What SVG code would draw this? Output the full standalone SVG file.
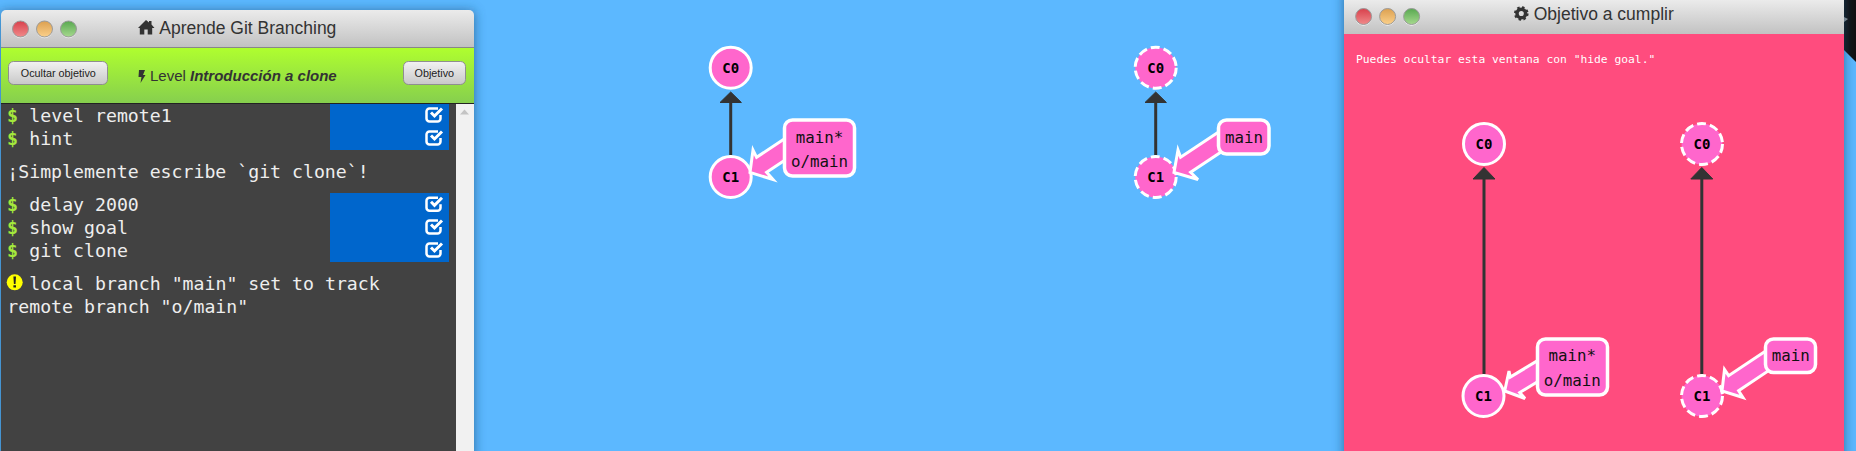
<svg xmlns="http://www.w3.org/2000/svg" xmlns:xlink="http://www.w3.org/1999/xlink" width="1856" height="451" viewBox="0 0 1856 451">
<defs>
<linearGradient id="bar" x1="0" y1="0" x2="0" y2="1"><stop offset="0" stop-color="#ebebeb"/><stop offset="1" stop-color="#c2c2c2"/></linearGradient>
<linearGradient id="green" x1="0" y1="0" x2="0" y2="1"><stop offset="0" stop-color="#b0ff2e"/><stop offset="1" stop-color="#86cf4e"/></linearGradient>
<linearGradient id="btn" x1="0" y1="0" x2="0" y2="1"><stop offset="0" stop-color="#f2f2f2"/><stop offset="1" stop-color="#c8c8c8"/></linearGradient>
<linearGradient id="red" x1="0" y1="0" x2="0" y2="1"><stop offset="0" stop-color="#d8404c"/><stop offset="1" stop-color="#f08a8a"/></linearGradient>
<linearGradient id="amber" x1="0" y1="0" x2="0" y2="1"><stop offset="0" stop-color="#dca050"/><stop offset="1" stop-color="#fbd08a"/></linearGradient>
<linearGradient id="lime" x1="0" y1="0" x2="0" y2="1"><stop offset="0" stop-color="#58a850"/><stop offset="1" stop-color="#a6d98e"/></linearGradient>
<filter id="sh" x="-10%" y="-10%" width="120%" height="120%"><feGaussianBlur stdDeviation="6"/></filter>
<g id="check">
<path d="M438 0h-8.500a3 3 0 0 0-3 3v7a3 3 0 0 0 3 3h8a3 3 0 0 0 3-3v-3.500" fill="none" stroke="#fff" stroke-width="2.500"/>
<path d="M431 4l3.500 3.500 7.500-7.500" fill="none" stroke="#fff" stroke-width="3"/>
</g>
<g id="lights">
<circle cx="0" cy="1.200" r="8" fill="#f4f4f4"/><circle cx="0" cy="0" r="8" fill="url(#red)" stroke="#9a9a9a"/>
<circle cx="24" cy="1.200" r="8" fill="#f4f4f4"/><circle cx="24" cy="0" r="8" fill="url(#amber)" stroke="#9a9a9a"/>
<circle cx="48" cy="1.200" r="8" fill="#f4f4f4"/><circle cx="48" cy="0" r="8" fill="url(#lime)" stroke="#9a9a9a"/>
</g>
</defs>
<style>
text{font-family:"Liberation Sans",Arial,sans-serif}
.term,.dollar,.ct,.bt,.note{font-family:"DejaVu Sans Mono","Liberation Mono",monospace}
.term{font-size:18.200px;fill:#eeeeee}
.dollar{font-size:18.200px;fill:#a4e83c;font-weight:bold}
.title{font-size:17.500px;fill:#333}
.btnr{fill:url(#btn);stroke:#8f8f8f;stroke-width:1}
.btnt{font-size:10.800px;fill:#222;text-anchor:middle}
.run{fill:#0066cc}
.commit{fill:#ff66cc;stroke:#fff;stroke-width:3}
.dash{stroke-dasharray:9 4}
.ct{font-size:14px;font-weight:bold;fill:#000;text-anchor:middle}
.edge{stroke:#333;stroke-width:3;fill:none}
.head{fill:#333;stroke:#333;stroke-width:1}
.br{fill:#ff66cc;stroke:#fff;stroke-width:3.500}
.bt{font-size:15.800px;fill:#111;text-anchor:middle}
.arrow{fill:#ff66cc;stroke:#fff;stroke-width:3}
</style>
<rect width="1856" height="451" fill="#5cb8ff"/>
<polygon points="1844,0 1856,0 1856,62 1844,50" fill="#111"/>
<polygon points="1844,17 1848,19 1844,22" fill="#999"/>

<g id="panel-left">
<rect x="1" y="11" width="473" height="450" fill="#1c4e78" opacity=".7" filter="url(#sh)"/>
<path d="M1 47V15a5 5 0 0 1 5-5H469a5 5 0 0 1 5 5V47Z" fill="url(#bar)"/>
<rect x="1" y="47" width="473" height="56" fill="url(#green)"/>
<rect x="1" y="47" width="473" height="1" fill="#888"/>
<rect x="1" y="103" width="473" height="348" fill="#424242"/>
<rect x="1" y="103" width="473" height="1" fill="#222"/>
<rect x="456" y="104" width="18" height="347" fill="#f1f1f1"/>
<path d="M460 114.500l4.500-5 4.500 5z" fill="#c4c4c4"/>
<use xlink:href="#lights" href="#lights" x="20.500" y="29"/>
<path d="M138 28l8-8 3 2.600V21h2.500v3.600l3 3.400h-2.300v6.500h-4.500v-5h-3.400v5h-4.500v-6.500z" fill="#333"/>
<text class="title" x="159.300" y="33.500">Aprende Git Branching</text>
<rect x="8.500" y="61.500" width="99" height="23" rx="5" class="btnr"/>
<text class="btnt" x="58.300" y="76.700">Ocultar objetivo</text>
<rect x="403.500" y="61.500" width="62" height="23" rx="5" class="btnr"/>
<text class="btnt" x="434.300" y="76.700">Objetivo</text>
<path d="M139 70h6l-2 5h2.500l-5 8 1-6h-3z" fill="#333"/>
<text x="150" y="81" font-size="15" fill="#333">Level <tspan font-weight="bold" font-style="italic">Introducción a clone</tspan></text>
</g>

<g id="terminal">
<rect x="330" y="104" width="119" height="46" class="run"/>
<rect x="330" y="193" width="119" height="69" class="run"/>
<text class="dollar" x="7" y="122">$</text><text class="term" x="29.300" y="122">level remote1</text>
<text class="dollar" x="7" y="145">$</text><text class="term" x="29.300" y="145">hint</text>
<text class="term" x="7.300" y="178">¡Simplemente escribe `git clone`!</text>
<text class="dollar" x="7" y="211">$</text><text class="term" x="29.300" y="211">delay 2000</text>
<text class="dollar" x="7" y="234">$</text><text class="term" x="29.300" y="234">show goal</text>
<text class="dollar" x="7" y="257">$</text><text class="term" x="29.300" y="257">git clone</text>
<text class="term" x="29.300" y="290">local branch "main" set to track</text>
<text class="term" x="7.300" y="313">remote branch "o/main"</text>
<circle cx="14.700" cy="282.300" r="8" fill="#ffff00"/>
<path d="M13.400 276.500h2.600l-.5 7.500h-1.600zM13.400 285.200h2.600v2.400h-2.600z" fill="#222"/>
<g id="checks">
<use xlink:href="#check" href="#check" y="108.500"/>
<use xlink:href="#check" href="#check" y="131.500"/>
<use xlink:href="#check" href="#check" y="197.800"/>
<use xlink:href="#check" href="#check" y="220.500"/>
<use xlink:href="#check" href="#check" y="243.500"/>
</g>
</g>

<g id="panel-goal">
<rect x="1344" y="-10" width="500" height="475" fill="#1c4e78" opacity=".7" filter="url(#sh)"/>
<rect x="1344" y="0" width="500" height="34" fill="url(#bar)"/>
<rect x="1344" y="34" width="500" height="417" fill="#ff4c7e"/>
<use xlink:href="#lights" href="#lights" x="1363.600" y="16.500"/>
<circle cx="1521.300" cy="13.500" r="4.300" fill="none" stroke="#333" stroke-width="3.500"/>
<circle cx="1521.300" cy="13.500" r="6.300" fill="none" stroke="#333" stroke-width="2" stroke-dasharray="2.500 2.450"/>
<text class="title" x="1533.700" y="20">Objetivo a cumplir</text>
<text class="note" x="1356" y="63" font-size="11.300" fill="#fff">Puedes ocultar esta ventana con "hide goal."</text>
</g>

<g id="node-c0-left"><circle class="commit" cx="730.700" cy="67.700" r="20.500"/><text class="ct" x="730.700" y="72.800">C0</text></g>
<g id="node-c1-left"><circle class="commit" cx="730.700" cy="177" r="20.500"/><text class="ct" x="730.700" y="182">C1</text></g>
<g id="node-c0-right"><circle class="commit dash" cx="1155.700" cy="67.700" r="20.500"/><text class="ct" x="1155.700" y="72.800">C0</text></g>
<g id="node-c1-right"><circle class="commit dash" cx="1155.700" cy="177" r="20.500"/><text class="ct" x="1155.700" y="182">C1</text></g>
<g id="node-goal-c0-left"><circle class="commit" cx="1484" cy="144" r="20.500"/><text class="ct" x="1484" y="149">C0</text></g>
<g id="node-goal-c1-left"><circle class="commit" cx="1483.500" cy="396" r="20.500"/><text class="ct" x="1483.500" y="401">C1</text></g>
<g id="node-goal-c0-right"><circle class="commit dash" cx="1702" cy="144" r="20.500"/><text class="ct" x="1702" y="149">C0</text></g>
<g id="node-goal-c1-right"><circle class="commit dash" cx="1702" cy="396" r="20.500"/><text class="ct" x="1702" y="401">C1</text></g>

<g id="connectors">
<path class="edge" d="M730.700 155V101"/><path class="head" d="M720 102.500L730.700 92l10.700 10.500z"/>
<path class="edge" d="M1155.700 155V101"/><path class="head" d="M1145 102.500L1155.700 92l10.700 10.500z"/>
<path class="edge" d="M1484 374V178"/><path class="head" d="M1473 179L1484 167.500l11 11.500z"/>
<path class="edge" d="M1701.800 374V178"/><path class="head" d="M1690.800 179L1701.800 167.500l11 11.500z"/>
<path class="arrow" d="M789.800 135.300L756.600 157.300L753 150L750 172.500L773 179.500L766.600 172.300L799.800 150.300Z"/>
<path class="arrow" d="M1222 129.800L1180.600 157.300L1178 150L1174 172.500L1198 179.500L1190.600 172.300L1232 144.800Z"/>
<path class="arrow" d="M1544.600 356.400L1510.300 377.100L1509 371L1504.700 391L1525 398.500L1519.700 392.500L1554 371.800Z"/>
<path class="arrow" d="M1770.200 347.900L1728.600 375.700L1724.500 369.500L1722 391L1743 397.500L1738.600 390.700L1780.200 362.900Z"/>
</g>

<g id="node-branch-main-left">
<rect class="br" x="784.500" y="120" width="70" height="56" rx="8"/>
<text class="bt" x="819.500" y="142.700">main*</text><text class="bt" x="819.500" y="167.300">o/main</text>
</g>
<g id="node-branch-main-right">
<rect class="br" x="1218.500" y="120" width="50.500" height="34" rx="8"/>
<text class="bt" x="1244" y="142.700">main</text>
</g>
<g id="node-goal-branch-left">
<rect class="br" x="1537.500" y="339" width="70" height="56" rx="8"/>
<text class="bt" x="1572.300" y="360.700">main*</text><text class="bt" x="1572.300" y="386">o/main</text>
</g>
<g id="node-goal-branch-right">
<rect class="br" x="1765.500" y="339" width="50" height="33.500" rx="8"/>
<text class="bt" x="1790.700" y="360.700">main</text>
</g>
</svg>
